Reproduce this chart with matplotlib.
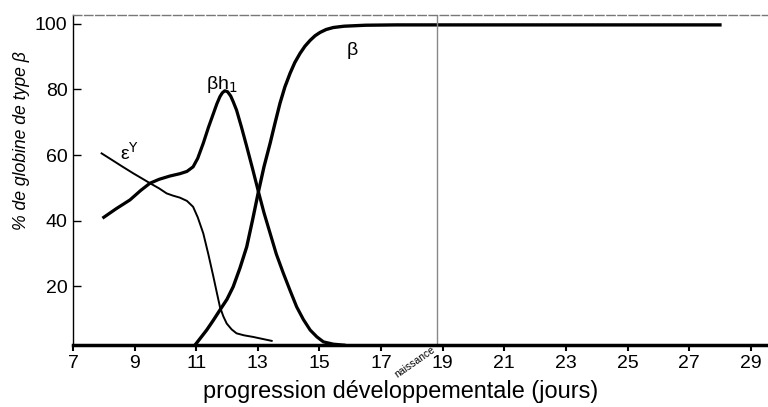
import matplotlib
matplotlib.use("Agg")
import matplotlib.pyplot as plt

plt.rcParams['font.family'] = ['Liberation Sans', 'DejaVu Sans']

# Data
eps_x = [7.93, 8.3, 8.6, 8.96, 9.25, 9.5, 9.8, 10.04, 10.25, 10.47, 10.7, 10.9, 11.05, 11.23, 11.4, 11.56, 11.67, 11.77, 11.88, 11.99, 12.15, 12.31, 12.55, 12.85, 13.15, 13.45]
eps_y = [60.5, 58.3, 56.5, 54.4, 52.8, 51.4, 49.8, 48.3, 47.6, 47.0, 46.0, 44.2, 41.0, 36.1, 29.5, 22.8, 18.0, 13.7, 10.8, 8.6, 6.8, 5.6, 5.0, 4.5, 3.9, 3.3]

bh1_x = [8.0, 8.4, 8.85, 9.2, 9.5, 9.8, 10.15, 10.47, 10.7, 10.9, 11.05, 11.23, 11.4, 11.56, 11.67, 11.77, 11.85, 11.93, 12.02, 12.12, 12.2, 12.31, 12.47, 12.64, 12.83, 13.02, 13.2, 13.4, 13.6, 13.83, 14.05, 14.26, 14.48, 14.7, 14.92, 15.13, 15.45, 15.8]
bh1_y = [41.0, 43.6, 46.3, 49.2, 51.4, 52.6, 53.6, 54.3, 55.0, 56.4, 59.0, 63.6, 68.5, 72.7, 75.6, 77.8, 79.0, 79.6, 79.3, 78.0, 76.3, 73.7, 68.5, 62.6, 55.8, 48.8, 42.4, 36.1, 29.8, 23.9, 18.6, 13.7, 9.8, 6.6, 4.5, 3.0, 2.3, 2.0]

b_x = [10.96, 11.15, 11.34, 11.55, 11.77, 12.0, 12.2, 12.42, 12.64, 12.83, 13.02, 13.2, 13.4, 13.56, 13.72, 13.88, 14.05, 14.2, 14.37, 14.53, 14.7, 14.86, 15.02, 15.22, 15.45, 15.8, 16.5, 17.5, 19.0, 28.0]
b_y = [2.0, 4.3, 6.6, 9.5, 12.7, 16.0, 19.8, 25.5, 32.0, 40.2, 48.8, 56.4, 63.6, 69.8, 75.8, 80.8, 85.0, 88.2, 91.0, 93.2, 95.0, 96.4, 97.4, 98.3, 98.9, 99.3, 99.6, 99.7, 99.7, 99.7]

x_ticks = [7, 9, 11, 13, 15, 17, 19, 21, 23, 25, 27, 29]
y_ticks = [20, 40, 60, 80, 100]
birth_x = 18.8

fig = plt.figure(figsize=(7.68, 4.07), dpi=100)
ax = fig.add_axes([0.095, 0.152, 0.905, 0.811])

ax.plot(eps_x, eps_y, color='black', lw=1.4, solid_joinstyle='round')
ax.plot(bh1_x, bh1_y, color='black', lw=2.3, solid_joinstyle='round')
ax.plot(b_x, b_y, color='black', lw=2.4, solid_joinstyle='round')
ax.axvline(birth_x, color='#888888', lw=1.0)

ax.set_xlim(7, 29.56)
ax.set_ylim(2, 102.7)
ax.set_xticks(x_ticks)
ax.set_yticks(y_ticks)
ax.tick_params(axis='x', direction='out', length=4, width=1.5, labelsize=14, pad=3)
ax.tick_params(axis='y', direction='in', length=6, width=1, labelsize=14, pad=4)

ax.spines['right'].set_visible(False)
ax.spines['top'].set_color('#777777')
ax.spines['top'].set_linestyle((0, (6, 2)))
ax.spines['top'].set_linewidth(1.0)
ax.spines['bottom'].set_linewidth(2.5)
ax.spines['left'].set_linewidth(1.0)

ax.set_xlabel('progression développementale (jours)', fontsize=16.9)
ax.xaxis.set_label_coords(0.472, -0.106)
ax.set_ylabel('% de globine de type β', fontsize=12.7, style='italic')
ax.yaxis.set_label_coords(-0.062, 0.62)

ax.text(16.05, 92, 'β', fontsize=14, ha='center', va='center')
ax.text(11.84, 81.5, 'βh$_1$', fontsize=14, ha='center', va='center')
ax.text(8.85, 60.6, 'ε$^\\mathrm{Y}$', fontsize=14, ha='center', va='center')
ax.text(18.1, -0.052, 'naissance', fontsize=7.5, rotation=35, ha='center', va='center',
        transform=ax.get_xaxis_transform())

fig.savefig('out.png', dpi=100)
